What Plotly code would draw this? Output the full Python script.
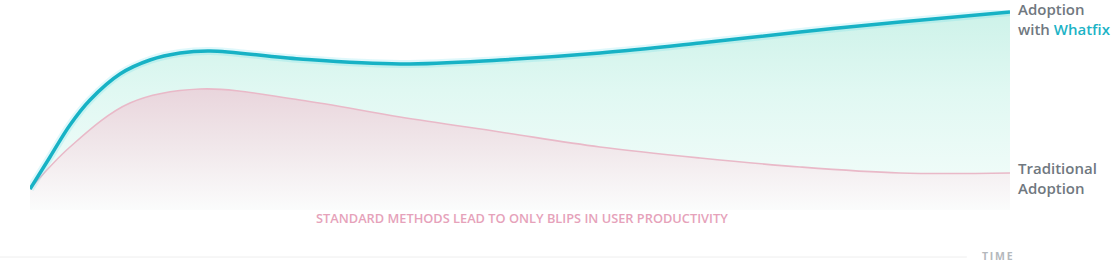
import plotly.graph_objects as go

# time axis (0 = launch, 100 = end of period)
time_whatfix = [0, 2.04, 4.08, 6.12, 9.18, 12.24, 15.31, 18.37, 27.55, 37.76, 47.96, 58.16, 68.37, 78.57, 88.78, 100]
adoption_whatfix = [10.5, 26.5, 42.5, 55, 68, 75, 78.5, 79.5, 75.5, 73, 75, 78.5, 83.5, 89, 94, 99]

time_traditional = [0, 4.08, 10.2, 17.35, 27.55, 37.76, 47.96, 58.16, 68.37, 78.57, 88.78, 100]
adoption_traditional = [10.5, 31.5, 53.5, 60.5, 55, 46.5, 39, 31.5, 26, 21.5, 18.5, 18.5]

label_whatfix = "Adoption<br>with <span style='color:#1cb3c6'>Whatfix</span>"
label_traditional = "Traditional<br>Adoption"
caption = "STANDARD METHODS LEAD TO ONLY BLIPS IN USER PRODUCTIVITY"
axis_label = "T\u2009I\u2009M\u2009E"

TEAL = "#17b2c5"
PINK = "#e9b9c8"
GRAY = "#707880"
SPL = dict(shape="spline", smoothing=1.0)

fig = go.Figure()

# Whatfix area
fig.add_trace(go.Scatter(
    x=time_whatfix, y=adoption_whatfix, mode="lines",
    line=dict(width=0, **SPL),
    fill="tozeroy",
    fillgradient=dict(type="vertical", start=0, stop=100,
                      colorscale=[[0, "#f5fdfb"], [0.6, "#e0f8f2"], [1, "#cdf2e9"]]),
    hoverinfo="skip", showlegend=False))

# Traditional area (opaque, covers lower part)
fig.add_trace(go.Scatter(
    x=time_traditional, y=adoption_traditional, mode="lines",
    line=dict(width=0, **SPL),
    fill="tozeroy",
    fillgradient=dict(type="vertical", start=0, stop=61,
                      colorscale=[[0, "#fbfcfc"], [0.5, "#f1e8eb"], [1, "#e9d5dc"]]),
    hoverinfo="skip", showlegend=False))

# Traditional line
fig.add_trace(go.Scatter(
    x=time_traditional, y=adoption_traditional, mode="lines",
    line=dict(width=1.6, color=PINK, **SPL),
    hoverinfo="skip", showlegend=False))

# Whatfix glow + line
fig.add_trace(go.Scatter(
    x=time_whatfix, y=adoption_whatfix, mode="lines",
    line=dict(width=8, color="rgba(40,205,225,0.15)", **SPL),
    hoverinfo="skip", showlegend=False))
fig.add_trace(go.Scatter(
    x=time_whatfix, y=adoption_whatfix, mode="lines",
    line=dict(width=3.5, color=TEAL, **SPL),
    hoverinfo="skip", showlegend=False))

fig.update_layout(
    width=1120, height=272,
    margin=dict(l=30, r=110, t=10, b=62),
    paper_bgcolor="white", plot_bgcolor="white",
    xaxis=dict(range=[0, 100], visible=False, fixedrange=True),
    yaxis=dict(range=[0, 100], visible=False, fixedrange=True),
    hovermode=False,
    font=dict(family="Open Sans", color=GRAY),
    annotations=[
        dict(x=100, y=adoption_whatfix[-1] - 2, xref="x", yref="y", xanchor="left", yanchor="middle",
             xshift=6, yshift=-3, text=label_whatfix, showarrow=False, align="left",
             font=dict(size=15, color=GRAY, weight=600)),
        dict(x=100, y=adoption_traditional[-1] - 2.5, xref="x", yref="y", xanchor="left", yanchor="middle",
             xshift=6, text=label_traditional, showarrow=False, align="left",
             font=dict(size=15, color=GRAY, weight=600)),
        dict(x=0.502, y=-0.04, xref="paper", yref="paper", xanchor="center", yanchor="middle",
             text=caption, showarrow=False,
             font=dict(size=12.8, color="#e6a2ba", weight=600)),
        dict(x=1.005, y=-0.23, xref="paper", yref="paper", xanchor="right", yanchor="middle",
             text=axis_label, showarrow=False,
             font=dict(size=10.5, color="#b4b8bc", weight=700)),
    ],
    shapes=[
        dict(type="line", xref="paper", yref="paper", x0=-0.031, x1=0.956, y0=-0.235, y1=-0.235,
             line=dict(color="#eeeeee", width=1)),
    ],
)

fig.write_html("out.html", config={"displayModeBar": False, "staticPlot": True})
